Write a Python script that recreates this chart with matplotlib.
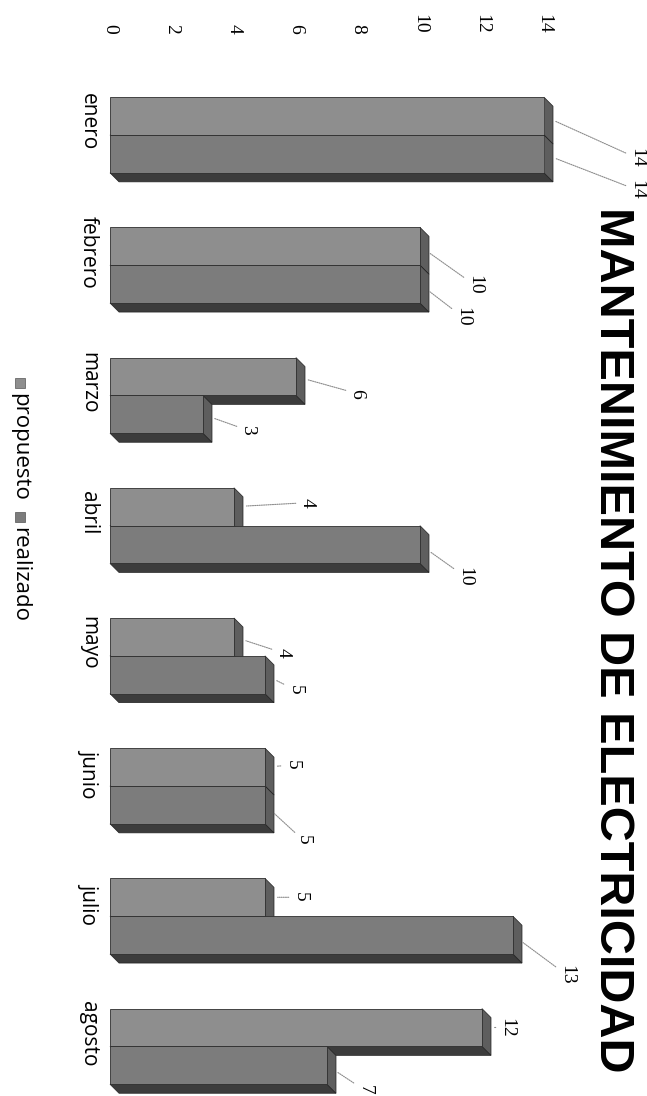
import numpy as np
import matplotlib.pyplot as plt
from matplotlib.patches import Polygon
from matplotlib import rcParams

rcParams['font.family'] = 'DejaVu Sans'

# -------------------------------
# data
# -------------------------------
meses = ["enero", "febrero", "marzo", "abril", "mayo", "junio", "julio", "agosto"]
propuesto = [14, 10, 6, 4, 4, 5, 5, 12]
realizado = [14, 10, 3, 10, 5, 5, 13, 7]
ticks = [0, 2, 4, 6, 8, 10, 12, 14]
titulo = "MANTENIMIENTO DE ELECTRICIDAD"

# label offsets (pixels: right, down) from the end of each bar
off_prop = [(93, 42), (55, 39), (61, 17), (73, -4), (49, 16), (27, -2), (35, 0), (25, 0)]
off_real = [(93, 36), (43, 33), (45, 16), (45, 32), (30, 15), (38, 35), (54, 40), (38, 25)]

# -------------------------------
# figure (chart is printed rotated 90 degrees)
# -------------------------------
W, H = 647, 1096
fig = plt.figure(figsize=(W / 100, H / 100), dpi=100)
fig.patch.set_facecolor("white")

top_px = 60
ax = fig.add_axes([110 / W, 0, 434 / W, (H - top_px) / H])
ax.set_xlim(0, 14)
ax.set_ylim((H - 139) / 130.2, (top_px - 139) / 130.2)
for s in ax.spines.values():
    s.set_visible(False)

y = np.arange(len(meses))
h = 0.29          # bar thickness (category units)
depth = 9         # 3D depth in pixels

col_prop = "#8e8e8e"
col_real = "#7c7c7c"
col_side = "#3c3c3c"
col_end = "#5e5e5e"


def to_px(x, yv):
    return ax.transData.transform((x, yv))


def from_px(p):
    return ax.transData.inverted().transform(p)


def bar3d(vals, yc, color, z):
    bars = ax.barh(yc, vals, height=h, color=color, edgecolor="#2e2e2e",
                   linewidth=0.6, zorder=z)
    off = np.array([depth, -depth])
    for b in bars:
        x0, x1 = b.get_x(), b.get_x() + b.get_width()
        yt, yb = b.get_y(), b.get_y() + b.get_height()   # y axis inverted
        pa, pb = to_px(x0, yb), to_px(x1, yb)
        pc, pd = to_px(x1, yt), to_px(x1, yb)
        side = [from_px(pa), from_px(pb), from_px(pb + off), from_px(pa + off)]
        end = [from_px(pc), from_px(pc + off), from_px(pd + off), from_px(pd)]
        for pts, fc in [(side, col_side), (end, col_end)]:
            ax.add_patch(Polygon(pts, closed=True, facecolor=fc, edgecolor="#222222",
                                 lw=0.5, zorder=z - 0.5, clip_on=False))
    return bars


fig.canvas.draw()
bar3d(propuesto, y - 0.176, col_prop, 3)
bar3d(realizado, y + 0.115, col_real, 5)

# -------------------------------
# value labels with leader lines
# -------------------------------
def labels(vals, yc, offs):
    for v, yy, (dx, dy) in zip(vals, yc, offs):
        ax.annotate(str(v), xy=(v, yy), xytext=(dx, -dy), textcoords="offset pixels",
                    rotation=-90, ha="center", va="center",
                    family="Liberation Serif", fontsize=14, zorder=8,
                    arrowprops=dict(arrowstyle="-", color="#8a8a8a", lw=0.8,
                                    linestyle=(0, (1, 1)), shrinkA=0, shrinkB=9))


labels(propuesto, y - 0.176, off_prop)
labels(realizado, y + 0.115, off_real)

# -------------------------------
# axes text
# -------------------------------
ax.xaxis.tick_top()
ax.set_xticks(ticks)
ax.set_xticklabels([str(t) for t in ticks], rotation=-90,
                   family="Liberation Serif", fontsize=14)
ax.tick_params(axis="x", length=0, pad=19)

ax.set_yticks(y - 0.13)
ax.set_yticklabels(meses, rotation=-90, va="center", fontsize=15, family="Open Sans")
ax.tick_params(axis="y", length=0, pad=8)

fig.text(612 / W, 1 - 640 / H, titulo, rotation=-90, ha="center", va="center",
         family="Liberation Sans", fontweight="bold", fontsize=35)

# legend drawn by hand
for name, color, yp in [("propuesto", col_prop, 383), ("realizado", col_real, 517)]:
    fig.patches.append(plt.Rectangle(((20 - 5) / W, 1 - (yp + 5) / H), 10 / W, 10 / H,
                                     transform=fig.transFigure, facecolor=color,
                                     edgecolor="#555555", lw=0.5))
    fig.text(20 / W, 1 - (yp + 10) / H, name, rotation=-90, ha="center", va="top",
             family="Open Sans", fontsize=16)

plt.savefig("out.png", dpi=100)
